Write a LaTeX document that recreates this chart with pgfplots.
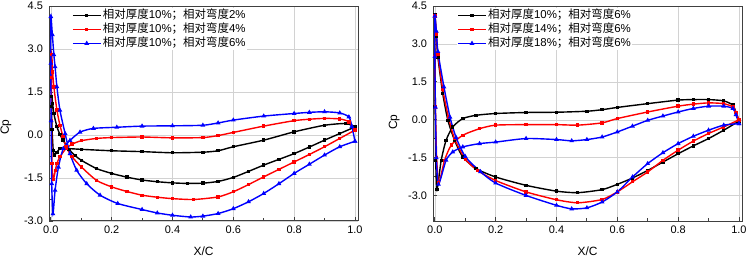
\documentclass[border=0pt]{standalone}
\usepackage{pgfplots}
\pgfplotsset{compat=1.18}
\usepackage{fontspec}
\setmainfont{Liberation Sans}
\newfontfamily\cjk{Noto Sans CJK SC}

\pgfplotsset{
 cpstyle/.style={
  scale only axis, width=309bp, height=215bp,
  xmin=-0.006, xmax=1.01,
  xtick={0,0.2,0.4,0.6,0.8,1.0}, minor x tick num=1,
  ytick={-3,-1.5,0,1.5,3,4.5}, minor y tick num=1,
  tick pos=left, tick align=inside,
  major tick length=4bp, minor tick length=2.5bp,
  grid=major, major grid style={gray!35, line width=0.6bp},
  axis line style={black!75, line width=1bp},
  every tick/.style={black!75, line width=0.8bp},
  tick label style={font=\fontsize{11}{13}\selectfont},
  xticklabel style={yshift=-1.5bp},
  yticklabel style={xshift=-2.5bp},
  /pgf/number format/fixed, /pgf/number format/fixed zerofill, /pgf/number format/precision=1,
  /pgf/number format/assume math mode=true,
  label style={font=\fontsize{12}{14}\selectfont},
  xlabel={X/C}, ylabel={Cp},
  xlabel style={at={(axis description cs:0.5,-0.1395)}, anchor=center},
  legend style={draw=none, fill=white, inner sep=0pt, font=\fontsize{11.5}{13}\selectfont, anchor=north west,
     nodes={inner sep=1.5bp, text height=8.5bp, text depth=2.5bp}, row sep=0pt},
  legend cell align=left,
  legend image code/.code={\draw[mark repeat=2,mark phase=2,##1] plot coordinates {(0bp,0bp) (14bp,0bp) (28bp,0bp)};},
 },
 bk/.style={black, line width=1.4bp, mark=square*, mark size=1bp, smooth, tension=0.4},
 rd/.style={red, line width=1.4bp, mark=square*, mark size=1bp, smooth, tension=0.4},
 bl/.style={blue, line width=1.4bp, mark=triangle*, mark size=1.4bp, smooth, tension=0.4},
}

\begin{document}
\begin{tikzpicture}
\useasboundingbox (0bp,0bp) rectangle (748bp,258bp);
% ---------------- left ----------------
\begin{axis}[cpstyle, at={(49bp,37bp)}, anchor=south west,
  ymin=-3.0, ymax=4.5,
  ylabel style={at={(axis description cs:-0.139,0.437)}, anchor=center},
  legend style={at={(axis description cs:0.074,0.99)}}]
\addplot[bk] coordinates {
(1.0,0.28) (0.97,0.40) (0.9,0.34) (0.8,0.11) (0.7,-0.18) (0.6,-0.41) (0.55,-0.55) (0.5,-0.60) (0.4,-0.62) (0.3,-0.58) (0.2,-0.55) (0.1,-0.50) (0.05,-0.47) (0.03,-0.48) (0.02,-0.6) (0.012,-0.70) (0.008,-0.55) (0.004,0.2) (0.002,1.0) (0.003,1.35)
(0.006,1.1) (0.01,0.75) (0.02,0.29) (0.03,0.02) (0.04,-0.18) (0.06,-0.5) (0.08,-0.72) (0.1,-0.88) (0.15,-1.17) (0.2,-1.34) (0.25,-1.47) (0.3,-1.57) (0.35,-1.63) (0.4,-1.67) (0.45,-1.69) (0.5,-1.68) (0.55,-1.62) (0.6,-1.48) (0.65,-1.27) (0.7,-1.05) (0.75,-0.85) (0.8,-0.65) (0.85,-0.42) (0.9,-0.18) (0.95,0.05) (1.0,0.28)
};
\addlegendentry{{\cjk 相对厚度}10\%{\cjk ；相对弯度}2\%}
\addplot[rd] coordinates {
(1.0,0.17) (0.98,0.46) (0.95,0.56) (0.9,0.58) (0.85,0.55) (0.8,0.5) (0.7,0.31) (0.6,0.09) (0.55,-0.02) (0.5,-0.09) (0.4,-0.1) (0.3,-0.07) (0.2,-0.09) (0.15,-0.12) (0.1,-0.2) (0.07,-0.32) (0.05,-0.47) (0.03,-0.76) (0.02,-0.99) (0.015,-1.23) (0.008,-1.55) (0.004,-1.0) (0.002,0.5) (0.002,2.0) (0.003,2.8)
(0.006,2.2) (0.01,1.68) (0.02,0.87) (0.03,0.34) (0.04,-0.05) (0.05,-0.41) (0.07,-0.76) (0.1,-1.11) (0.15,-1.58) (0.2,-1.81) (0.25,-1.97) (0.3,-2.1) (0.35,-2.17) (0.4,-2.22) (0.47,-2.25) (0.55,-2.16) (0.6,-1.98) (0.65,-1.73) (0.7,-1.46) (0.75,-1.2) (0.8,-0.94) (0.85,-0.68) (0.9,-0.41) (0.95,-0.12) (1.0,0.17)
};
\addlegendentry{{\cjk 相对厚度}10\%{\cjk ；相对弯度}4\%}
\addplot[bl] coordinates {
(1.0,-0.22) (0.99,0.3) (0.98,0.63) (0.95,0.77) (0.9,0.81) (0.85,0.79) (0.8,0.75) (0.7,0.66) (0.6,0.52) (0.55,0.42) (0.5,0.34) (0.4,0.32) (0.3,0.31) (0.217,0.27) (0.14,0.23) (0.096,0.10) (0.063,-0.19) (0.041,-0.47) (0.025,-1.12) (0.014,-1.93) (0.007,-2.75) (0.003,-1.7) (0.001,0.5) (0.0,2.5) (0.0,4.13)
(0.005,3.5) (0.01,2.8) (0.014,2.38) (0.02,1.68) (0.03,0.86) (0.047,0.05) (0.063,-0.65) (0.085,-1.23) (0.118,-1.7) (0.162,-2.1) (0.22,-2.39) (0.3,-2.6) (0.35,-2.72) (0.4,-2.8) (0.46,-2.86) (0.5,-2.83) (0.55,-2.74) (0.6,-2.57) (0.65,-2.33) (0.7,-2.04) (0.75,-1.7) (0.8,-1.34) (0.85,-1.02) (0.9,-0.7) (0.95,-0.41) (1.0,-0.22)
};
\addlegendentry{{\cjk 相对厚度}10\%{\cjk ；相对弯度}6\%}
\end{axis}
% ---------------- right ----------------
\begin{axis}[cpstyle, at={(433bp,37bp)}, anchor=south west,
  ymin=-4.0, ymax=4.5,
  ylabel style={at={(axis description cs:-0.126,0.46)}, anchor=center},
  legend style={at={(axis description cs:0.078,0.99)}}]
\addplot[bk] coordinates {
(1.0,-0.05) (0.99,0.3) (0.98,0.58) (0.95,0.75) (0.9,0.80) (0.85,0.80) (0.8,0.78) (0.7,0.64) (0.6,0.49) (0.55,0.40) (0.5,0.34) (0.4,0.30) (0.3,0.29) (0.2,0.25) (0.136,0.18) (0.092,0.05) (0.059,-0.28) (0.037,-0.81) (0.021,-1.6) (0.007,-2.76) (0.003,-1.6) (0.001,0.5) (0.0,2.5) (0.0,4.14)
(0.005,3.3) (0.01,2.49) (0.026,1.04) (0.043,-0.02) (0.065,-0.81) (0.092,-1.47) (0.136,-1.93) (0.2,-2.26) (0.3,-2.59) (0.4,-2.82) (0.47,-2.88) (0.55,-2.76) (0.6,-2.55) (0.65,-2.3) (0.7,-2.0) (0.75,-1.67) (0.8,-1.34) (0.85,-1.03) (0.9,-0.74) (0.95,-0.41) (1.0,-0.05)
};
\addlegendentry{{\cjk 相对厚度}10\%{\cjk ；相对弯度}6\%}
\addplot[rd] coordinates {
(1.0,0.0) (0.99,0.3) (0.98,0.51) (0.95,0.64) (0.9,0.67) (0.85,0.62) (0.8,0.54) (0.7,0.31) (0.6,0.05) (0.55,-0.12) (0.47,-0.21) (0.4,-0.19) (0.3,-0.19) (0.2,-0.21) (0.147,-0.35) (0.092,-0.61) (0.054,-1.0) (0.032,-1.6) (0.013,-2.5) (0.006,-1.5) (0.002,0.5) (0.0,2.5) (0.0,4.1)
(0.005,3.4) (0.01,2.6) (0.026,1.2) (0.045,0.1) (0.065,-0.75) (0.1,-1.55) (0.14,-2.0) (0.2,-2.4) (0.3,-2.85) (0.4,-3.16) (0.47,-3.28) (0.55,-3.15) (0.6,-2.85) (0.65,-2.45) (0.7,-2.06) (0.75,-1.6) (0.8,-1.2) (0.85,-0.84) (0.9,-0.54) (0.95,-0.28) (1.0,0.0)
};
\addlegendentry{{\cjk 相对厚度}14\%{\cjk ；相对弯度}6\%}
\addplot[bl] coordinates {
(1.0,-0.15) (0.99,0.2) (0.98,0.45) (0.95,0.54) (0.9,0.54) (0.85,0.45) (0.8,0.31) (0.75,0.15) (0.7,-0.02) (0.65,-0.25) (0.6,-0.48) (0.55,-0.68) (0.5,-0.78) (0.45,-0.83) (0.4,-0.78) (0.3,-0.74) (0.2,-0.88) (0.147,-0.94) (0.092,-1.07) (0.059,-1.27) (0.037,-1.6) (0.012,-2.55) (0.005,-1.5) (0.002,0.5) (0.0,2.5) (0.0,4.1)
(0.005,3.5) (0.01,2.7) (0.03,1.3) (0.05,0.1) (0.07,-0.7) (0.1,-1.45) (0.15,-2.05) (0.2,-2.5) (0.3,-2.99) (0.4,-3.38) (0.45,-3.52) (0.5,-3.48) (0.55,-3.25) (0.6,-2.85) (0.65,-2.26) (0.7,-1.73) (0.75,-1.3) (0.8,-0.94) (0.85,-0.65) (0.9,-0.41) (0.95,-0.21) (1.0,-0.15)
};
\addlegendentry{{\cjk 相对厚度}18\%{\cjk ；相对弯度}6\%}
\end{axis}
\end{tikzpicture}
\end{document}
